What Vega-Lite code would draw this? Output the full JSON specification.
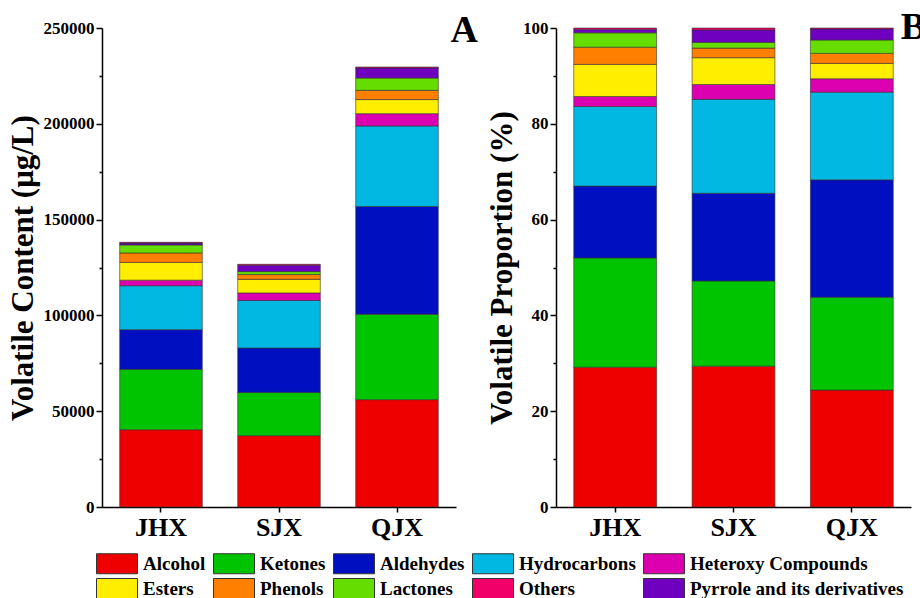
{
  "$schema": "https://vega.github.io/schema/vega-lite/v6.json",
  "background": "white",
  "padding": {"left": 7, "top": 9, "right": 2, "bottom": 0},
  "config": {
    "font": "Liberation Serif",
    "view": {"stroke": null},
    "axis": {
      "domainColor": "black", "domainWidth": 1.5, "tickColor": "black", "tickWidth": 1.5,
      "labelFont": "Liberation Serif", "labelFontWeight": "bold", "labelColor": "black",
      "titleFont": "Liberation Serif", "titleFontWeight": "bold", "titleColor": "black", "grid": false
    }
  },
  "data": {"values": [
    {"sample": "JHX", "category": "Alcohol", "rank": 1, "content": 40340, "pct": 29.2},
    {"sample": "JHX", "category": "Ketones", "rank": 2, "content": 31500, "pct": 22.8},
    {"sample": "JHX", "category": "Aldehydes", "rank": 3, "content": 20720, "pct": 15.0},
    {"sample": "JHX", "category": "Hydrocarbons", "rank": 4, "content": 22930, "pct": 16.6},
    {"sample": "JHX", "category": "Heteroxy Compounds", "rank": 5, "content": 2900, "pct": 2.1},
    {"sample": "JHX", "category": "Esters", "rank": 6, "content": 9260, "pct": 6.7},
    {"sample": "JHX", "category": "Phenols", "rank": 7, "content": 4970, "pct": 3.6},
    {"sample": "JHX", "category": "Lactones", "rank": 8, "content": 4140, "pct": 3.0},
    {"sample": "JHX", "category": "Pyrrole and its derivatives", "rank": 9, "content": 970, "pct": 0.7},
    {"sample": "JHX", "category": "Others", "rank": 10, "content": 410, "pct": 0.3},
    {"sample": "SJX", "category": "Alcohol", "rank": 1, "content": 37240, "pct": 29.4},
    {"sample": "SJX", "category": "Ketones", "rank": 2, "content": 22550, "pct": 17.8},
    {"sample": "SJX", "category": "Aldehydes", "rank": 3, "content": 23180, "pct": 18.3},
    {"sample": "SJX", "category": "Hydrocarbons", "rank": 4, "content": 24830, "pct": 19.6},
    {"sample": "SJX", "category": "Heteroxy Compounds", "rank": 5, "content": 3930, "pct": 3.1},
    {"sample": "SJX", "category": "Esters", "rank": 6, "content": 7090, "pct": 5.6},
    {"sample": "SJX", "category": "Phenols", "rank": 7, "content": 2530, "pct": 2.0},
    {"sample": "SJX", "category": "Lactones", "rank": 8, "content": 1520, "pct": 1.2},
    {"sample": "SJX", "category": "Pyrrole and its derivatives", "rank": 9, "content": 3290, "pct": 2.6},
    {"sample": "SJX", "category": "Others", "rank": 10, "content": 510, "pct": 0.4},
    {"sample": "QJX", "category": "Alcohol", "rank": 1, "content": 56030, "pct": 24.4},
    {"sample": "QJX", "category": "Ketones", "rank": 2, "content": 44550, "pct": 19.4},
    {"sample": "QJX", "category": "Aldehydes", "rank": 3, "content": 56260, "pct": 24.5},
    {"sample": "QJX", "category": "Hydrocarbons", "rank": 4, "content": 42030, "pct": 18.3},
    {"sample": "QJX", "category": "Heteroxy Compounds", "rank": 5, "content": 6430, "pct": 2.8},
    {"sample": "QJX", "category": "Esters", "rank": 6, "content": 7350, "pct": 3.2},
    {"sample": "QJX", "category": "Phenols", "rank": 7, "content": 4820, "pct": 2.1},
    {"sample": "QJX", "category": "Lactones", "rank": 8, "content": 6430, "pct": 2.8},
    {"sample": "QJX", "category": "Pyrrole and its derivatives", "rank": 9, "content": 5280, "pct": 2.3},
    {"sample": "QJX", "category": "Others", "rank": 10, "content": 460, "pct": 0.2}
  ]},
  "spacing": 8,
  "resolve": {"scale": {"color": "shared"}},
  "hconcat": [
    {
      "width": 354, "height": 479,
      "title": {"text": "A", "anchor": "end", "frame": "group", "fontSize": 38, "fontWeight": "bold", "font": "Liberation Serif", "color": "black", "dx": 22, "dy": 17, "offset": -14},
      "mark": {"type": "bar", "stroke": "#333333", "strokeWidth": 0.6},
      "encoding": {
        "x": {"field": "sample", "type": "nominal", "sort": ["JHX", "SJX", "QJX"],
              "scale": {"paddingInner": 0.3, "paddingOuter": 0.15},
              "axis": {"title": null, "labelAngle": 0, "labelFontSize": 26, "labelPadding": 2, "tickSize": 5}},
        "y": {"field": "content", "type": "quantitative", "stack": "zero",
              "scale": {"domain": [0, 250000], "nice": false},
              "axis": {"title": "Volatile Content (μg/L)", "titleFontSize": 31, "titlePadding": 4, "labelFontSize": 17, "labelPadding": 2, "format": "d",
                       "values": [0, 25000, 50000, 75000, 100000, 125000, 150000, 175000, 200000, 225000, 250000],
                       "labelExpr": "datum.value % 50000 === 0 ? datum.label : ''",
                       "tickSize": {"condition": {"test": "datum.value % 50000 === 0", "value": 6}, "value": 3}}},
        "order": {"field": "rank", "type": "quantitative", "sort": "ascending"},
        "color": {"field": "category", "type": "nominal",
                  "scale": {"domain": ["Alcohol", "Ketones", "Aldehydes", "Hydrocarbons", "Heteroxy Compounds", "Esters", "Phenols", "Lactones", "Others", "Pyrrole and its derivatives"],
                            "range": ["#EE0000", "#00C400", "#0010C0", "#00B8E2", "#DC00B0", "#FFEE00", "#FF8000", "#66DD00", "#F2006A", "#7000C0"]},
                  "legend": {"title": null, "orient": "none", "legendX": -6, "legendY": 525, "columns": 5, "direction": "horizontal",
                             "symbolType": "M-1,-1H3.1V1H-1Z", "symbolSize": 400, "symbolStrokeColor": "#888888", "symbolStrokeWidth": 1, "symbolOpacity": 1,
                             "labelFont": "Liberation Serif", "labelFontWeight": "bold", "labelFontSize": 19, "labelColor": "black", "labelOffset": 26, "columnPadding": 5, "rowPadding": 0, "labelLimit": 0}}
      }
    },
    {
      "width": 355, "height": 479,
      "title": {"text": "B", "anchor": "end", "frame": "group", "fontSize": 38, "fontWeight": "bold", "font": "Liberation Serif", "color": "black", "dx": 15, "dy": 14, "offset": -14},
      "mark": {"type": "bar", "stroke": "#333333", "strokeWidth": 0.6},
      "encoding": {
        "x": {"field": "sample", "type": "nominal", "sort": ["JHX", "SJX", "QJX"],
              "scale": {"paddingInner": 0.3, "paddingOuter": 0.15},
              "axis": {"title": null, "labelAngle": 0, "labelFontSize": 26, "labelPadding": 2, "tickSize": 5}},
        "y": {"field": "pct", "type": "quantitative", "stack": "zero",
              "scale": {"domain": [0, 100], "nice": false},
              "axis": {"title": "Volatile Proportion (%)", "titleFontSize": 31, "titlePadding": 4, "labelFontSize": 17, "labelPadding": 2,
                       "values": [0, 10, 20, 30, 40, 50, 60, 70, 80, 90, 100],
                       "labelExpr": "datum.value % 20 === 0 ? datum.label : ''",
                       "tickSize": {"condition": {"test": "datum.value % 20 === 0", "value": 6}, "value": 3}}},
        "order": {"field": "rank", "type": "quantitative", "sort": "ascending"},
        "color": {"field": "category", "type": "nominal"}
      }
    }
  ]
}
